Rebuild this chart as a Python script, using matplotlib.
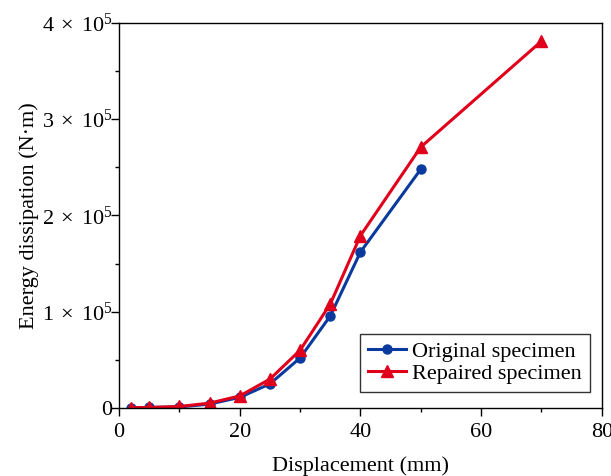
import numpy as np
import matplotlib.pyplot as plt
from matplotlib.ticker import MultipleLocator, FuncFormatter

# displacement (mm) and energy dissipation (N*m)
disp_orig = [2, 5, 10, 15, 20, 25, 30, 35, 40, 50]
energy_orig = [200, 500, 1000, 4000, 11000, 25000, 52000, 95600, 162000, 248000]

disp_rep = [2, 5, 10, 15, 20, 25, 30, 35, 40, 50, 70]
energy_rep = [300, 500, 1500, 5000, 12500, 30000, 60000, 108000, 179000, 271000, 381000]

plt.rcParams['font.family'] = ['Liberation Serif', 'DejaVu Serif']
plt.rcParams['mathtext.fontset'] = 'custom'
plt.rcParams['mathtext.rm'] = 'Liberation Serif'
plt.rcParams['mathtext.it'] = 'Liberation Serif:italic'

fig = plt.figure(figsize=(6.11, 4.76), dpi=100)
ax = fig.add_axes([0.195, 0.143, 0.79, 0.809])

ax.plot(disp_orig, energy_orig, color='#0a3a9e', lw=2.2, marker='o', ms=6.5,
        label='Original specimen')
ax.plot(disp_rep, energy_rep, color='#e0001b', lw=2.2, marker='^', ms=8,
        label='Repaired specimen')

ax.set_xlim(0, 80)
ax.set_ylim(0, 4e5)
ax.xaxis.set_major_locator(MultipleLocator(20))
ax.xaxis.set_minor_locator(MultipleLocator(10))
ax.yaxis.set_major_locator(MultipleLocator(1e5))
ax.yaxis.set_minor_locator(MultipleLocator(0.5e5))


def sci_fmt(v, pos):
    n = int(round(v / 1e5))
    if n == 0:
        return '0'
    return r'$\mathregular{%d\;\times\;10^5}$' % n


ax.yaxis.set_major_formatter(FuncFormatter(sci_fmt))
ax.tick_params(which='both', direction='out', labelsize=16, width=1)
ax.tick_params(which='major', length=6)
ax.tick_params(which='minor', length=3)
ax.tick_params(axis='x', pad=5)
ax.tick_params(axis='y', pad=-1)

for s in ax.spines.values():
    s.set_linewidth(1)

ax.set_xlabel('Displacement (mm)', fontsize=16, labelpad=10)
ax.set_ylabel('Energy dissipation (N·m)', fontsize=16, labelpad=2)

leg = ax.legend(loc='lower right', bbox_to_anchor=(0.975, 0.042), fontsize=16,
                frameon=True, fancybox=False, edgecolor='black',
                borderpad=0.35, labelspacing=0.06, handlelength=1.7,
                handletextpad=0.3, borderaxespad=0)
leg.get_frame().set_linewidth(1)

fig.savefig('out.png', dpi=100)
